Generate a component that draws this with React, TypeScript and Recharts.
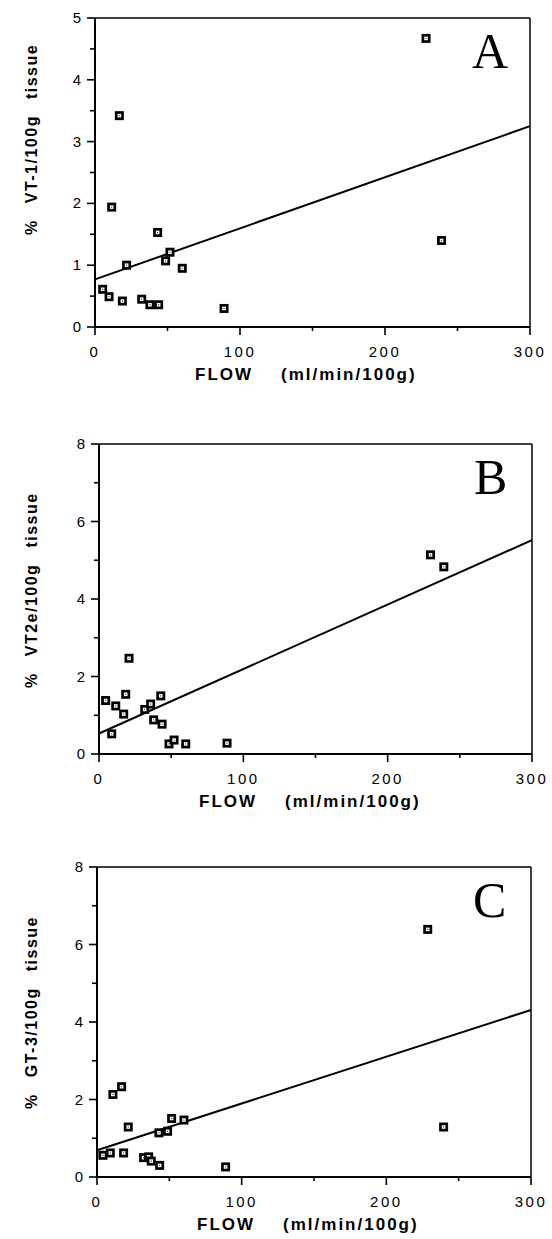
import { ReferenceLine, Scatter, ScatterChart, XAxis, YAxis } from "recharts"

// values
const flowA = [16.8, 11.5, 43.2, 51.7, 48.7, 21.8, 60.2, 5.3, 9.7, 18.9, 32.2, 37.9, 43.9, 89, 228.3, 239]
const vt1 = [3.42, 1.94, 1.53, 1.21, 1.07, 1.0, 0.95, 0.61, 0.49, 0.42, 0.45, 0.36, 0.36, 0.3, 4.67, 1.4]
const fitA = [0.77, 3.25]

const flowB = [20.8, 4.6, 18.5, 11.6, 17.1, 8.8, 31.7, 35.8, 42.8, 37.9, 43.7, 48.5, 52, 60.1, 88.7, 229.7, 238.9]
const vt2e = [2.47, 1.38, 1.54, 1.24, 1.03, 0.52, 1.15, 1.29, 1.5, 0.88, 0.77, 0.26, 0.36, 0.26, 0.28, 5.14, 4.83]
const fitB = [0.53, 5.52]

const flowC = [11, 17, 21.6, 4.1, 9.2, 18.4, 32.2, 35.7, 37.5, 43.3, 42.8, 48.8, 51.6, 60.1, 88.9, 228.6, 239.6]
const gt3 = [2.13, 2.33, 1.29, 0.56, 0.62, 0.62, 0.5, 0.52, 0.41, 0.3, 1.14, 1.18, 1.51, 1.47, 0.26, 6.39, 1.29]
const fitC = [0.69, 4.31]

const xTicks = [0, 50, 100, 150, 200, 250, 300]
const yTicksA = [0, 0.5, 1, 1.5, 2, 2.5, 3, 3.5, 4, 4.5, 5]
const yTicks8 = [0, 1, 2, 3, 4, 5, 6, 7, 8]

const SANS = "'Liberation Sans', Arial, sans-serif"
const SERIF = "'Liberation Serif', 'Times New Roman', serif"

function Marker(props: any) {
  const { cx, cy } = props
  if (cx == null || cy == null) return null
  return (
    <g>
      <rect x={cx - 4.5} y={cy - 4.5} width={9} height={9} fill="#000" />
      <rect x={cx - 1.8} y={cy - 1.8} width={3.6} height={3.6} fill="#fff" />
      <rect x={cx - 0.5} y={cy - 0.5} width={1} height={1} fill="#000" />
    </g>
  )
}

function YTick({ x, y, payload, majorEvery }: any) {
  const major = payload.value % majorEvery === 0
  return (
    <g>
      <line x1={x} y1={y} x2={x - (major ? 8 : 5)} y2={y} stroke="#000" strokeWidth={1.6} />
      {major && (
        <text x={x - 14} y={y + 5} textAnchor="end" fontFamily={SANS} fontSize={15} fill="#000">
          {payload.value}
        </text>
      )}
    </g>
  )
}

function XTick({ x, y, payload }: any) {
  const major = payload.value % 100 === 0
  return (
    <g>
      <line x1={x} y1={y} x2={x} y2={y + (major ? 8 : 4)} stroke="#000" strokeWidth={1.6} />
      {major && (
        <text x={x} y={y + 30} textAnchor="middle" fontFamily={SANS} fontSize={15} letterSpacing={2.5} fill="#000">
          {payload.value}
        </text>
      )}
    </g>
  )
}

type PanelProps = {
  top: number
  height: number
  margin: { top: number; right: number; bottom: number; left: number }
  flow: number[]
  values: number[]
  fit: number[]
  yMax: number
  yTicks: number[]
  majorEvery: number
  letter: string
  compound: string
  labelStart: number
}

function Panel(p: PanelProps) {
  const data = p.flow.map((f, i) => ({ flow: f, value: p.values[i] }))
  const W = 552
  const plotLeft = p.margin.left + 60
  const plotRight = W - p.margin.right
  const plotTop = p.margin.top
  const plotBottom = p.height - p.margin.bottom - 60
  return (
    <div style={{ position: "absolute", left: 0, top: p.top, width: W, height: p.height }}>
      <ScatterChart width={W} height={p.height} margin={p.margin}>
        <XAxis
          type="number"
          dataKey="flow"
          domain={[0, 300]}
          ticks={xTicks}
          height={60}
          tickSize={0}
          tickMargin={0}
          tickLine={false}
          axisLine={{ stroke: "#000", strokeWidth: 2 }}
          tick={(t: any) => <XTick {...t} />}
          allowDataOverflow
        />
        <YAxis
          type="number"
          dataKey="value"
          domain={[0, p.yMax]}
          ticks={p.yTicks}
          width={60}
          tickSize={0}
          tickMargin={0}
          tickLine={false}
          axisLine={{ stroke: "#000", strokeWidth: 2 }}
          tick={(t: any) => <YTick {...t} majorEvery={p.majorEvery} />}
          allowDataOverflow
        />
        <ReferenceLine y={p.yMax} stroke="#000" strokeWidth={1.5} />
        <ReferenceLine x={300} stroke="#000" strokeWidth={1.5} />
        <ReferenceLine
          segment={[
            { x: 0, y: p.fit[0] },
            { x: 300, y: p.fit[1] },
          ]}
          stroke="#000"
          strokeWidth={2}
        />
        <Scatter data={data} shape={Marker} isAnimationActive={false} />
        <text x={plotRight - 58} y={plotTop + 50} fontFamily={SERIF} fontSize={50} fill="#000">
          {p.letter}
        </text>
        <text
          x={plotLeft + 100}
          y={plotBottom + 53}
          fontFamily={SANS}
          fontSize={17}
          fontWeight="bold"
          letterSpacing={2}
          fill="#000"
        >
          FLOW
          <tspan dx={28}>(ml/min/100g)</tspan>
        </text>
        <text
          transform={`translate(37, ${p.labelStart}) rotate(-90)`}
          fontFamily={SANS}
          fontSize={16}
          fontWeight="bold"
          letterSpacing={1.5}
          fill="#000"
        >
          %
          <tspan dx={16}>{p.compound}</tspan>
          <tspan dx={16}>tissue</tspan>
        </text>
      </ScatterChart>
    </div>
  )
}

export default function App() {
  return (
    <div style={{ position: "absolute", left: 0, top: 0, width: 552, height: 1239, background: "#fff" }}>
      <Panel
        top={0}
        height={400}
        margin={{ top: 18, right: 22, bottom: 13, left: 35 }}
        flow={flowA}
        values={vt1}
        fit={fitA}
        yMax={5}
        yTicks={yTicksA}
        majorEvery={1}
        letter="A"
        compound="VT-1/100g"
        labelStart={235}
      />
      <Panel
        top={420}
        height={400}
        margin={{ top: 24, right: 20, bottom: 6, left: 39 }}
        flow={flowB}
        values={vt2e}
        fit={fitB}
        yMax={8}
        yTicks={yTicks8}
        majorEvery={2}
        letter="B"
        compound="VT2e/100g"
        labelStart={268}
      />
      <Panel
        top={830}
        height={409}
        margin={{ top: 37, right: 21, bottom: 2, left: 37 }}
        flow={flowC}
        values={gt3}
        fit={fitC}
        yMax={8}
        yTicks={yTicks8}
        majorEvery={2}
        letter="C"
        compound="GT-3/100g"
        labelStart={279}
      />
    </div>
  )
}
